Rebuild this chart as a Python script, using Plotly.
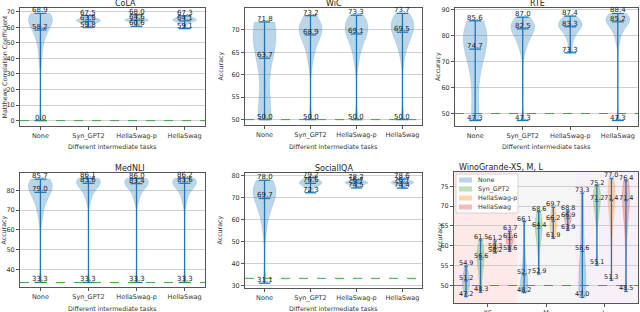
import plotly.graph_objects as go

# ---------------- data ----------------
TASKS = ["None", "Syn_GPT2", "HellaSwag-p", "HellaSwag"]
SIZES = ["XS", "M", "L"]

COLA_MAX = [68.9, 67.5, 68.0, 67.3]
COLA_MID = [58.2, 63.8, 64.6, 64.1]
COLA_MIN = [0.0, 59.8, 60.6, 59.1]
COLA_SAMPLES = [
    [0.0, 38, 45, 50, 53, 55, 57, 59, 60, 61, 62, 63, 64, 65, 65.5, 66, 66.5, 67, 67.5, 68, 68.5, 68.9],
    [59.8, 61.5, 62.5, 63, 63.5, 64, 64.2, 64.5, 64.8, 65, 65.5, 66, 67.5],
    [60.6, 62.5, 63.5, 64, 64.3, 64.6, 64.8, 65, 65.3, 66, 68.0],
    [59.1, 62, 63.5, 64, 64.3, 64.6, 65, 65.3, 65.8, 66.5, 67.3],
]

WIC_MAX = [71.8, 73.2, 73.3, 73.7]
WIC_MID = [63.7, 68.9, 69.1, 69.5]
WIC_MIN = [50.0, 50.0, 50.0, 50.0]
WIC_SAMPLES = [
    [50.0, 50.1, 50.2, 50.4, 50.7, 51.2, 60, 63.5, 65.5, 66.8, 67.8, 68.5, 69.1, 69.6, 70.1, 70.5, 71, 71.4, 71.8],
    [50.0, 62.5, 65, 66.5, 67.5, 68.3, 69, 69.5, 70, 70.4, 70.8, 71.2, 71.7, 72.3, 73.2],
    [50.0, 63, 65.5, 67, 68, 68.8, 69.5, 70, 70.5, 71, 71.5, 72, 72.6, 73.3],
    [50.0, 64, 66.5, 67.5, 68.5, 69.3, 70, 70.5, 71, 71.4, 71.8, 72.3, 72.9, 73.7],
]

RTE_MAX = [85.6, 87.0, 87.4, 88.4]
RTE_MID = [74.7, 82.5, 83.3, 85.2]
RTE_MIN = [47.3, 47.3, 73.3, 47.3]
RTE_SAMPLES = [
    [47.3, 47.5, 48, 57, 64, 68, 71, 73, 75, 76.5, 77.5, 78.5, 79.5, 80.3, 81, 82, 83, 84.2, 85.6],
    [47.3, 74, 77, 79, 80.5, 81.5, 82.3, 83, 83.7, 84.3, 85, 85.8, 87.0],
    [73.3, 78, 80.5, 82, 83, 83.6, 84.1, 84.6, 85.2, 86, 87.4],
    [47.3, 78, 81.5, 83, 84.2, 85, 85.6, 86.2, 86.7, 87.2, 87.8, 88.4],
]

MED_MAX = [85.7, 86.1, 86.0, 86.2]
MED_MID = [79.0, 83.6, 83.4, 83.6]
MED_MIN = [33.3, 33.3, 33.3, 33.3]
MED_SAMPLES = [
    [33.3, 66, 71, 74, 76, 77.5, 79, 80, 81, 82, 82.8, 83.5, 84.2, 84.8, 85.3, 85.7],
    [33.3, 75, 78.5, 80.5, 82, 83, 83.8, 84.5, 85, 85.5, 85.9, 86.1],
    [33.3, 75, 78.5, 80.5, 82, 83, 83.7, 84.3, 84.9, 85.4, 85.8, 86.0],
    [33.3, 74, 78, 80.5, 82, 83, 83.8, 84.5, 85, 85.5, 85.9, 86.2],
]

SOC_MAX = [78.0, 79.2, 78.2, 78.6]
SOC_MID = [69.7, 76.6, 76.7, 76.7]
SOC_MIN = [31.1, 72.3, 74.5, 74.4]
SOC_SAMPLES = [
    [31.1, 55, 61, 64, 66, 68, 69.5, 70.5, 71.5, 72.5, 73.5, 74.5, 75.5, 76.5, 77.3, 78.0],
    [72.3, 74.5, 75.5, 76, 76.4, 76.7, 77, 77.3, 77.8, 78.5, 79.2],
    [74.5, 75.5, 76.2, 76.5, 76.7, 76.9, 77.1, 77.4, 77.7, 78.2],
    [74.4, 75.5, 76.2, 76.5, 76.8, 77, 77.2, 77.5, 77.9, 78.6],
]

# WinoGrande: order = XS(None, Syn_GPT2, HellaSwag-p, HellaSwag), M(...), L(...)
WINO_MAX = [54.9, 61.5, 61.2, 63.7, 66.1, 68.6, 69.7, 68.8, 73.3, 75.2, 77.0, 76.4]
WINO_MID = [51.2, 56.6, 59.3, 61.6, 52.7, 64.4, 66.2, 66.9, 58.6, 71.2, 71.4, 71.4]
WINO_MIN = [47.2, 48.3, 58.2, 58.6, 48.2, 52.9, 61.9, 63.9, 47.0, 55.1, 51.3, 48.5]
WINO_SAMPLES = [
    [47.2, 48.5, 49.5, 50.2, 50.8, 51.3, 51.8, 52.5, 53.5, 54.9],
    [48.3, 52, 54, 55.5, 56.5, 57.3, 58, 58.8, 59.7, 61.5],
    [58.2, 58.7, 59, 59.3, 59.6, 59.9, 60.3, 61.2],
    [58.6, 60, 60.8, 61.3, 61.7, 62, 62.5, 63.7],
    [48.2, 48.5, 49, 49.5, 50, 50.8, 51.5, 52.5, 54, 57, 61, 66.1],
    [52.9, 59, 61.5, 63, 64, 64.8, 65.5, 66.2, 67, 68.6],
    [61.9, 63.5, 64.5, 65.3, 66, 66.6, 67.2, 68, 69.7],
    [63.9, 65.5, 66.2, 66.7, 67.1, 67.5, 68, 68.8],
    [47.0, 47.5, 48, 48.8, 49.5, 50.5, 51.5, 53, 55, 58, 62, 66, 70, 73.3],
    [55.1, 66, 68.5, 70, 71, 71.8, 72.5, 73.2, 74, 75.2],
    [51.3, 63, 67, 69, 70.5, 71.5, 72.5, 73.5, 74.5, 75.8, 77.0],
    [48.5, 62, 66, 68.5, 70, 71.2, 72.3, 73.3, 74.3, 75.4, 76.4],
]

BASELINES = {"CoLA": 0.0, "WiC": 50.0, "RTE": 50.0, "MedNLI": 33.3, "SocialIQA": 33.3, "Wino": 50.0}

# ---------------- style ----------------
FONT = "DejaVu Sans"
BLUE = "#1f77b4"
FILLS = ["rgba(31,119,180,0.3)", "rgba(44,160,44,0.3)", "rgba(255,127,14,0.3)", "rgba(214,39,40,0.3)"]
W = 640
H = 312
TICK_SIZE = 6.5
AXTITLE_SIZE = 6.3

def dom_x(a, b):
    return [a / W, b / W]

def dom_y(top, bottom):
    return [1 - bottom / H, 1 - top / H]

def px_x(v):
    return v / W

def px_y(v):
    return 1 - v / H

fig = go.Figure()
annotations = []
shapes = []

def add_panel(k, title, samples, maxs, mids, mins, positions, fills, ytitle, ytitle_x, xdom, ydom,
              xrange, yrange, ytickvals, xtickvals, xticktext, xtitle, xtitle_y, baseline, label_size=7):
    xa = "x" if k == 1 else f"x{k}"
    ya = "y" if k == 1 else f"y{k}"
    for i, s in enumerate(samples):
        p = positions[i]
        fig.add_trace(go.Violin(
            x=[p] * len(s), y=s, width=0.5, spanmode="manual", span=[mins[i], maxs[i]],
            fillcolor=fills[i % len(fills)], line=dict(color=fills[i % len(fills)], width=0.5),
            points=False, box_visible=False, meanline_visible=False,
            xaxis=xa, yaxis=ya, hoverinfo="skip", name=TASKS[i % 4], showlegend=False,
        ))
    # bars and caps
    bx, by = [], []
    for i, p in enumerate(positions):
        bx += [p, p, None]
        by += [mins[i], maxs[i], None]
        for v in (mins[i], mids[i], maxs[i]):
            bx += [p - 0.125, p + 0.125, None]
            by += [v, v, None]
    fig.add_trace(go.Scatter(x=bx, y=by, mode="lines", line=dict(color=BLUE, width=1.3),
                             xaxis=xa, yaxis=ya, hoverinfo="skip", showlegend=False))
    for i, p in enumerate(positions):
        for v in (maxs[i], mids[i], mins[i]):
            annotations.append(dict(x=p, y=v, xref=xa, yref=ya, text=f"{v:.1f}", showarrow=False,
                                    yanchor="bottom", yshift=-3, font=dict(size=label_size, color="#222", family=FONT)))
    shapes.append(dict(type="line", xref=f"{xa} domain", yref=ya, x0=0, x1=1, y0=baseline, y1=baseline,
                       line=dict(color="#2ca02c", width=0.9, dash="dash"), layer="above"))
    # panel title
    annotations.append(dict(x=(xdom[0] + xdom[1]) / 2, y=ydom[1], xref="paper", yref="paper",
                            text=title, showarrow=False, yanchor="bottom", yshift=-2,
                            font=dict(size=8, color="#222", family=FONT)))
    # axis titles
    annotations.append(dict(x=px_x(ytitle_x), y=(ydom[0] + ydom[1]) / 2, xref="paper", yref="paper",
                            text=ytitle, showarrow=False, textangle=-90, xanchor="center", yanchor="middle",
                            font=dict(size=AXTITLE_SIZE, color="#333", family=FONT)))
    if xtitle:
        annotations.append(dict(x=(xdom[0] + xdom[1]) / 2, y=px_y(xtitle_y), xref="paper", yref="paper",
                                text=xtitle, showarrow=False, xanchor="center", yanchor="middle",
                                font=dict(size=AXTITLE_SIZE, color="#333", family=FONT)))
    axis_common = dict(showline=True, mirror=True, linecolor="#555", linewidth=1,
                       ticks="outside", ticklen=3, tickcolor="#555", zeroline=False,
                       automargin=False,
                       tickfont=dict(size=TICK_SIZE, color="#333", family=FONT))
    fig.update_layout(**{
        ("xaxis" if k == 1 else f"xaxis{k}"): dict(
            domain=xdom, anchor=ya, range=xrange, tickvals=xtickvals, ticktext=xticktext,
            showgrid=False, **axis_common),
        ("yaxis" if k == 1 else f"yaxis{k}"): dict(
            domain=ydom, anchor=xa, range=yrange, tickvals=ytickvals, showgrid=True,
            gridcolor="#cfcfcf", gridwidth=1, **axis_common),
    })

POS4 = [1, 2, 3, 4]
XR4 = [0.575, 4.425]
XT = "Different intermediate tasks"
add_panel(1, "CoLA", COLA_SAMPLES, COLA_MAX, COLA_MID, COLA_MIN, POS4, FILLS[:1],
          "Matthews Correlation Coefficient", 3.5, dom_x(20, 205), dom_y(8, 126), XR4, [-3.45, 72.35],
          [0, 10, 20, 30, 40, 50, 60, 70], POS4, TASKS, XT, 146.5, BASELINES["CoLA"])
add_panel(2, "WiC", WIC_SAMPLES, WIC_MAX, WIC_MID, WIC_MIN, POS4, FILLS[:1],
          "Accuracy", 220, dom_x(245, 422), dom_y(8, 125), XR4, [48.8, 74.9],
          [50, 55, 60, 65, 70], POS4, TASKS, XT, 146.5, BASELINES["WiC"])
add_panel(3, "RTE", RTE_SAMPLES, RTE_MAX, RTE_MID, RTE_MIN, POS4, FILLS[:1],
          "Accuracy", 438, dom_x(455, 638), dom_y(8, 126), XR4, [45.2, 90.5],
          [50, 60, 70, 80, 90], POS4, TASKS, XT, 146.5, BASELINES["RTE"])
add_panel(4, "MedNLI", MED_SAMPLES, MED_MAX, MED_MID, MED_MIN, POS4, FILLS[:1],
          "Accuracy", 3.5, dom_x(20, 205), dom_y(173, 287), XR4, [31.0, 88.8],
          [40, 50, 60, 70, 80], POS4, TASKS, XT, 308, BASELINES["MedNLI"])
add_panel(5, "SocialIQA", SOC_SAMPLES, SOC_MAX, SOC_MID, SOC_MIN, POS4, FILLS[:1],
          "Accuracy", 219, dom_x(245, 422), dom_y(173, 288), XR4, [28.9, 81.3],
          [30, 40, 50, 60, 70, 80], POS4, TASKS, XT, 308.5, BASELINES["SocialIQA"])

POS12 = list(range(1, 13))
XR12 = [0.175, 12.825]
add_panel(6, "WinoGrande-XS, M, L", WINO_SAMPLES, WINO_MAX, WINO_MID, WINO_MIN, POS12, FILLS,
          "Accuracy", 439, dom_x(454, 638), dom_y(172, 303), XR12, [45.6, 78.6],
          [50, 55, 60, 65, 70, 75], [2.5, 6.5, 10.5], SIZES, None, None, BASELINES["Wino"],
          label_size=6.5)

# group backgrounds for WinoGrande
bounds = [XR12[0], 4.5, 8.5, XR12[1]]
bg = ["rgba(255,0,0,0.09)", "rgba(128,128,128,0.08)", "rgba(128,0,128,0.06)"]
for j in range(3):
    shapes.append(dict(type="rect", xref="x6", yref="y6 domain", x0=bounds[j], x1=bounds[j + 1],
                       y0=0, y1=1, fillcolor=bg[j], line=dict(width=0), layer="below"))

# legend box for WinoGrande (drawn manually for compact rows)
shapes.append(dict(type="rect", xref="paper", yref="paper", x0=px_x(456), x1=px_x(518),
                   y0=px_y(213), y1=px_y(174), fillcolor="rgba(255,255,255,0.85)",
                   line=dict(color="#cccccc", width=0.8), layer="above"))
for i, name in enumerate(TASKS):
    cy = 180 + 9 * i
    shapes.append(dict(type="rect", xref="paper", yref="paper", x0=px_x(459), x1=px_x(472),
                       y0=px_y(cy + 2.5), y1=px_y(cy - 2.5), fillcolor=FILLS[i],
                       line=dict(width=0), layer="above"))
    annotations.append(dict(x=px_x(476), y=px_y(cy), xref="paper", yref="paper", text=name,
                            showarrow=False, xanchor="left", yanchor="middle",
                            font=dict(size=6.3, color="#333", family=FONT)))

fig.update_layout(
    width=W, height=H, margin=dict(l=0, r=0, t=0, b=0, autoexpand=False),
    paper_bgcolor="white", plot_bgcolor="white",
    violinmode="overlay", showlegend=False,
    annotations=annotations, shapes=shapes,
    font=dict(family=FONT),
)

fig.write_html("out.html", config={"displayModeBar": False, "responsive": False},
               post_script="document.body.style.margin='0px';")
